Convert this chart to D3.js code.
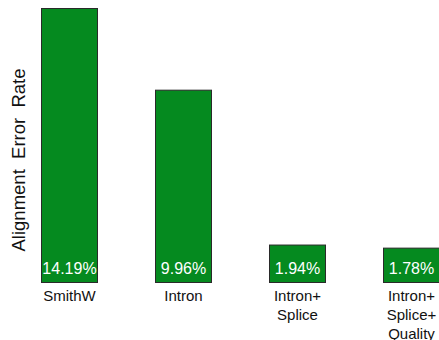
<!DOCTYPE html>
<html>
<head>
<meta charset="utf-8">
<script src="https://cdn.jsdelivr.net/npm/d3@7"></script>
<style>
  body { margin: 0; background: #fff; }
  text { font-family: "Liberation Sans", Arial, sans-serif; }
</style>
</head>
<body>
<div id="chart"></div>
<script>
// chart data
const categories = ["SmithW", "Intron", "Intron+Splice", "Intron+Splice+Quality"];
const catLines = [["SmithW"], ["Intron"], ["Intron+", "Splice"], ["Intron+", "Splice+", "Quality"]];
const errorRates = [14.19, 9.96, 1.94, 1.78];
const valueLabels = ["14.19%", "9.96%", "1.94%", "1.78%"];
const yTitle = "Alignment  Error  Rate";

const width = 439, height = 340;
const baseY = 282, topY = 8;

let svg = d3.select("#chart")
    .append("svg")
    .attr("width", width)
    .attr("height", height)
    .style("display", "block")

let x = d3.scaleBand()
    .domain(categories)
    .range([41, 440])
    .paddingInner(0.5)
    .paddingOuter(0)

let y = d3.scaleLinear()
    .domain([0, d3.max(errorRates)])
    .range([baseY, topY])

let data = categories.map((c, i) => ({cat: c, v: errorRates[i], label: valueLabels[i], lines: catLines[i]}))

svg.selectAll("rect.bar")
    .data(data)
    .enter()
    .append("rect")
    .classed("bar", true)
    .attr("x", d => x(d.cat) + 0.5)
    .attr("y", d => y(d.v) + 0.5)
    .attr("width", x.bandwidth() - 1)
    .attr("height", d => baseY - y(d.v))
    .attr("fill", "#058a1f")
    .attr("stroke", "#2a2a2a")
    .attr("stroke-width", 1)

svg.selectAll("text.val")
    .data(data)
    .enter()
    .append("text")
    .classed("val", true)
    .attr("x", d => x(d.cat) + x.bandwidth() / 2)
    .attr("y", baseY - 8.5)
    .attr("text-anchor", "middle")
    .attr("fill", "#fff")
    .attr("font-size", 16)
    .text(d => d.label)

let cats = svg.selectAll("text.cat")
    .data(data)
    .enter()
    .append("text")
    .classed("cat", true)
    .attr("x", d => x(d.cat) + x.bandwidth() / 2)
    .attr("y", baseY + 19)
    .attr("text-anchor", "middle")
    .attr("fill", "#111")
    .attr("font-size", 15)

cats.selectAll("tspan")
    .data(d => d.lines.map(l => ({l: l, cx: x(d.cat) + x.bandwidth() / 2})))
    .enter()
    .append("tspan")
    .attr("x", d => d.cx)
    .attr("dy", (d, i) => i === 0 ? 0 : 19)
    .text(d => d.l)

svg.append("text")
    .attr("transform", "translate(25,160) rotate(-90)")
    .attr("text-anchor", "middle")
    .attr("font-size", 18.5)
    .attr("fill", "#111")
    .style("white-space", "pre")
    .text(yTitle)
</script>
</body>
</html>
